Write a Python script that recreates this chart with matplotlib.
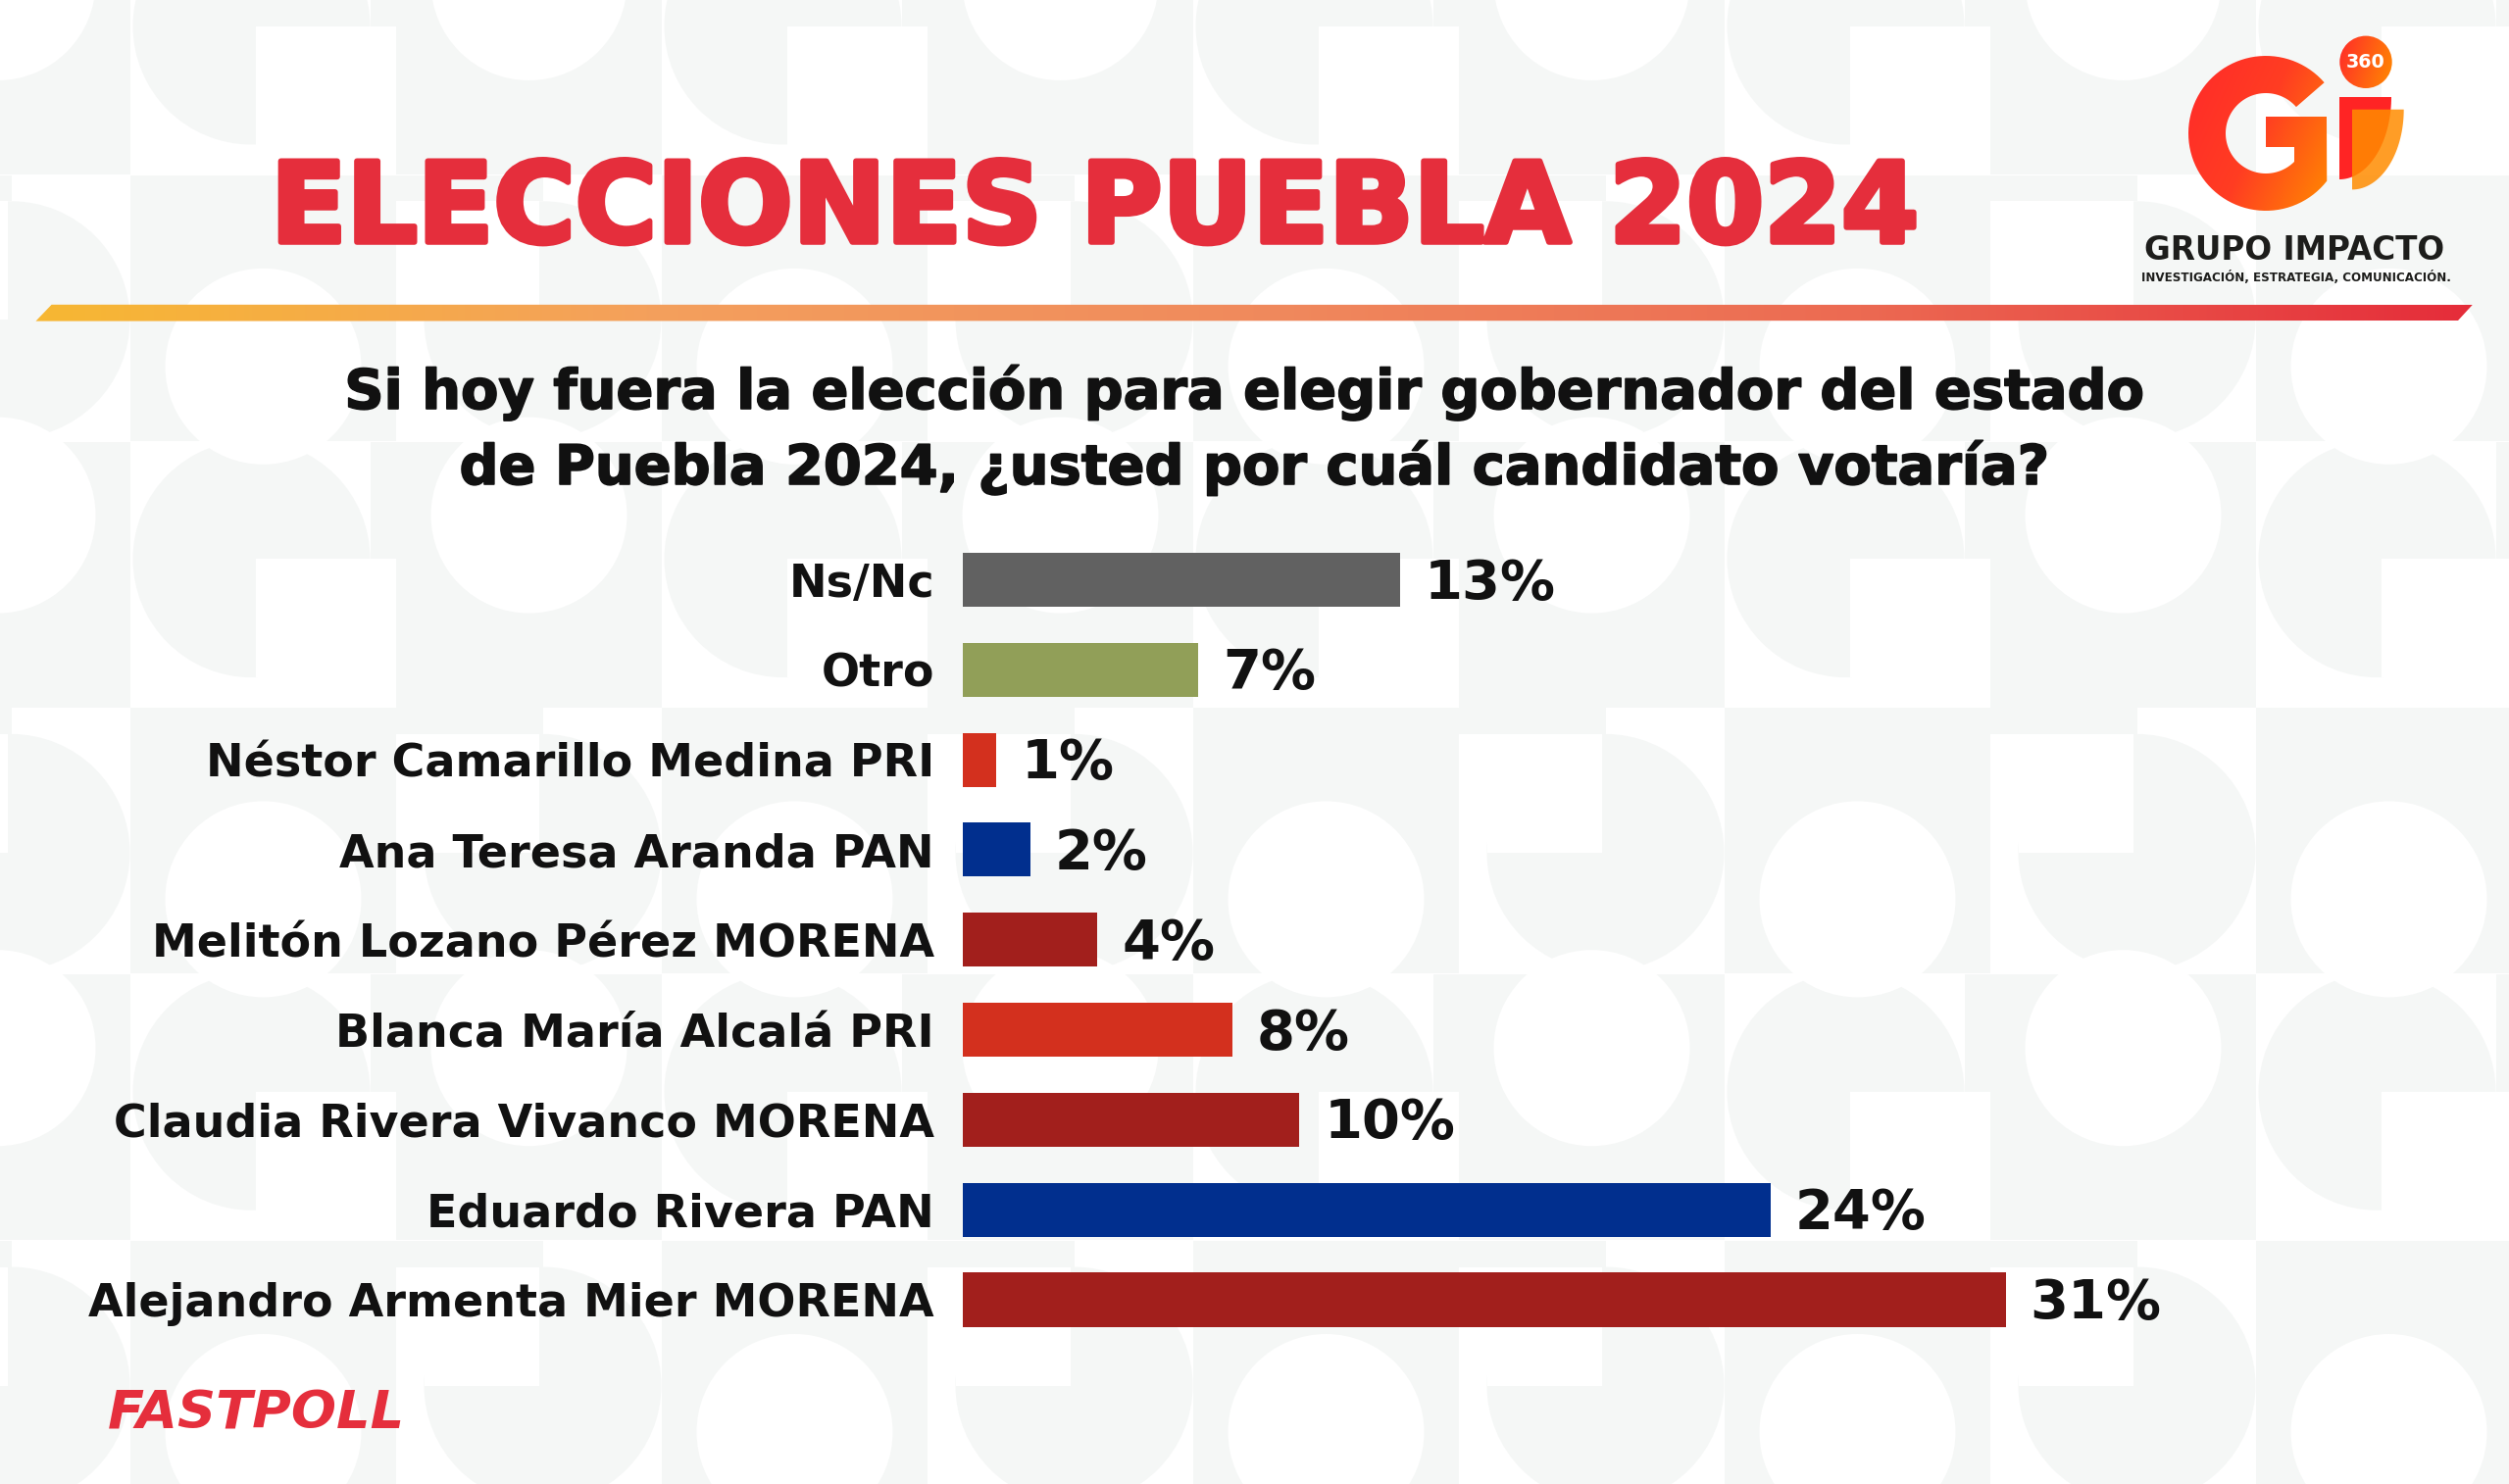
import numpy as np
import matplotlib
matplotlib.use("Agg")
import matplotlib.pyplot as plt
from matplotlib.patches import Polygon, Rectangle, Circle
from matplotlib.colors import LinearSegmentedColormap
import matplotlib.patheffects as pe

# ---------------- data ----------------
categories = ["Ns/Nc", "Otro", "Néstor Camarillo Medina PRI", "Ana Teresa Aranda PAN",
              "Melitón Lozano Pérez MORENA", "Blanca María Alcalá PRI",
              "Claudia Rivera Vivanco MORENA", "Eduardo Rivera PAN",
              "Alejandro Armenta Mier MORENA"]
values = [13, 7, 1, 2, 4, 8, 10, 24, 31]
bar_colors = ["#616161", "#919f58", "#d3301e", "#012f8e", "#a21f1c",
              "#d3301e", "#a21f1c", "#012f8e", "#a21f1c"]
title = "ELECCIONES PUEBLA 2024"
question = ["Si hoy fuera la elección para elegir gobernador del estado",
            "de Puebla 2024, ¿usted por cuál candidato votaría?"]
source = "FASTPOLL"
brand = "GRUPO IMPACTO"
brand_sub = "INVESTIGACIÓN, ESTRATEGIA, COMUNICACIÓN."
brand_badge = "360"

# ---------------- figure ----------------
W, H, DPI = 2559, 1514, 100
FONT = "DejaVu Sans"
fig = plt.figure(figsize=(W / DPI, H / DPI), dpi=DPI)
fig.patch.set_facecolor("white")
R = fig.canvas.get_renderer()

bg = fig.add_axes([0, 0, 1, 1])
bg.set_xlim(0, W)
bg.set_ylim(H, 0)
bg.axis("off")


def fit_size(s, target, **kw):
    t = fig.text(0, 0, s, fontsize=40, **kw)
    w = t.get_window_extent(renderer=R).width
    t.remove()
    return 40 * target / w


# ---------------- background pattern ----------------
GRAY = "#f5f7f6"
T = 271
tops = [-93 + 271.8 * k for k in range(6)]
lefts = [1488 + T * (c - 5) for c in range(-1, 11)]
o_circles = []
for k, top in enumerate(tops):
    rowA = (k % 2 == 0)
    for ci, left in zip(range(-1, 11), lefts):
        cx, cy = left + T / 2, top + T / 2
        if (ci + k) % 2 == 1:  # "O" tile
            bg.add_patch(Rectangle((left, top), T, T, color=GRAY, lw=0, zorder=0))
            o_circles.append((cx, top + (75 if rowA else 195)))
        else:  # "G" tile
            rg = 121
            if rowA:
                gx, gy = cx - 12, cy - 16
                bg.add_patch(Circle((gx, gy), rg, color=GRAY, lw=0, zorder=0.1))
                bg.add_patch(Rectangle((gx + rg, top), left + T - gx - rg, gy - top,
                                       color=GRAY, lw=0, zorder=0.1))
                bg.add_patch(Rectangle((gx + 4, gy), rg, rg, color="white", lw=0, zorder=0.2))
            else:
                gx, gy = cx + 14, cy + 12
                bg.add_patch(Circle((gx, gy), rg, color=GRAY, lw=0, zorder=0.1))
                bg.add_patch(Rectangle((left, top), gx - left, gy - rg - top,
                                       color=GRAY, lw=0, zorder=0.1))
                bg.add_patch(Rectangle((gx - rg, gy - rg), rg - 4, rg, color="white", lw=0, zorder=0.2))
for (x, y) in o_circles:
    bg.add_patch(Circle((x, y), 100, color="white", lw=0, zorder=0.3))


def grad_patch(patch, extent, colors, vec=(1.0, 0.0), z=2):
    patch.set_facecolor("none")
    patch.set_edgecolor("none")
    bg.add_patch(patch)
    cmap = LinearSegmentedColormap.from_list("g", colors)
    xs = np.linspace(0, 1, 300)
    ys = np.linspace(0, 1, 100)
    X, Y = np.meshgrid(xs, ys)
    G = X * vec[0] + Y * vec[1]
    G = (G - G.min()) / (G.max() - G.min())
    im = bg.imshow(G, extent=extent, cmap=cmap, aspect="auto", zorder=z,
                   interpolation="bilinear")
    im.set_clip_path(patch)


# ---------------- title + stripe ----------------
ts = fit_size(title, 1680, family=FONT, weight="bold")
bg.text(276, 247, title, fontsize=ts, family=FONT, weight="bold", color="#e52e3c",
        ha="left", va="baseline", zorder=5,
        path_effects=[pe.withStroke(linewidth=4, foreground="#e52e3c")])

stripe = Polygon([(52.6, 310.8), (2521.7, 311), (2507, 327), (36.5, 327.6)], closed=True)
grad_patch(stripe, (36, 2522, 328, 310),
           ["#f7b733", "#f4a05c", "#f08a5d", "#ec6a52", "#e52d3a"])

# ---------------- question ----------------
qs = fit_size(question[0], 1834, family=FONT, weight="bold")
qfx = [pe.withStroke(linewidth=1.2, foreground="#111111")]
bg.text(1269.5, 417, question[0], fontsize=qs, family=FONT, weight="bold",
        color="#111111", ha="center", va="baseline", zorder=5, path_effects=qfx)
bg.text(1279.5, 494, question[1], fontsize=qs, family=FONT, weight="bold",
        color="#111111", ha="center", va="baseline", zorder=5, path_effects=qfx)

# ---------------- logo ----------------
cx, cy, Ro, Ri = 2311, 136, 79, 41
th_o = np.radians(np.linspace(41, 322, 80))
th_i = np.radians(np.linspace(315, 41, 80))
pts = [(cx + Ro * np.cos(t), cy - Ro * np.sin(t)) for t in th_o]
pts += [(2373, 119), (2311, 119), (2311, 150), (2340, 150)]
pts += [(cx + Ri * np.cos(t), cy - Ri * np.sin(t)) for t in th_i]
grad_patch(Polygon(pts, closed=True), (2230, 2375, 216, 56),
           ["#ff2a2a", "#ff3d22", "#ff8a00"], vec=(1.0, 0.5), z=3)


def quarter_ellipse(x0, y0, a, b):
    t = np.radians(np.linspace(0, 90, 40))
    p = [(x0, y0)] + [(x0 + a * np.cos(tt), y0 + b * np.sin(tt)) for tt in t]
    return p


bg.add_patch(Polygon(quarter_ellipse(2386, 99, 53, 84), closed=True,
                     color="#ff2424", lw=0, zorder=3))
bg.add_patch(Polygon(quarter_ellipse(2399, 111.7, 52.7, 81.7), closed=True,
                     color="#ff8c00", alpha=0.85, lw=0, zorder=3.1))
grad_patch(Circle((2413, 63.3), 26.7), (2386, 2440, 90, 36),
           ["#ff2a2a", "#ff8a00"], vec=(1.0, 0.3), z=3)
bs = fit_size(brand_badge, 40, family=FONT, weight="bold")
bg.text(2413, 63.3, brand_badge, fontsize=bs, family=FONT, weight="bold", color="white",
        ha="center", va="center", zorder=4)
gs = fit_size(brand, 306, family=FONT, weight="bold")
bg.text(2340, 265, brand, fontsize=gs, family=FONT, weight="bold", color="#1d1d1b",
        ha="center", va="baseline", zorder=4)
ss = fit_size(brand_sub, 315, family=FONT, weight="bold")
bg.text(2341.5, 287, brand_sub, fontsize=ss, family=FONT, weight="bold", color="#1d1d1b",
        ha="center", va="baseline", zorder=4)

# ---------------- source ----------------
fs = fit_size(source, 303, family=FONT, weight="bold", style="italic")
bg.text(110, 1458, source, fontsize=fs, family=FONT, weight="bold", style="italic",
        color="#e52e3c", ha="left", va="baseline", zorder=5)

bg.set_xlim(0, W)
bg.set_ylim(H, 0)

# ---------------- bar chart ----------------
x0_px = 982
px_per = (2045.7 - 982) / 31
xmax = 36
top_px = 591.5 - 0.5 * 91.8
bot_px = 1326 + 0.5 * 91.8
ax = fig.add_axes([x0_px / W, 1 - bot_px / H, xmax * px_per / W, (bot_px - top_px) / H])
ax.set_facecolor("none")
ax.set_zorder(2)
ypos = np.arange(len(categories))
ax.barh(ypos, values, height=0.6, color=bar_colors)
ax.set_xlim(0, xmax)
ax.set_ylim(len(categories) - 0.5, -0.5)
for s in ax.spines.values():
    s.set_visible(False)
ax.set_xticks([])
ls = fit_size(categories[-1], 862, family=FONT, weight="bold")
ax.set_yticks(ypos)
ax.set_yticklabels(categories, fontsize=ls, family=FONT, weight="bold", color="#111111")
ax.tick_params(axis="y", length=0, pad=29 * 72 / DPI)

vs = fit_size("13%", 134, family=FONT, weight="bold")
for i, v in enumerate(values):
    ax.annotate(f"{v}%", (v, i), xytext=(25 * 72 / DPI, -4 * 72 / DPI),
                textcoords="offset points", ha="left", va="center",
                fontsize=vs, family=FONT, weight="bold", color="#111111")

fig.savefig("out.png", dpi=DPI, facecolor="white")
